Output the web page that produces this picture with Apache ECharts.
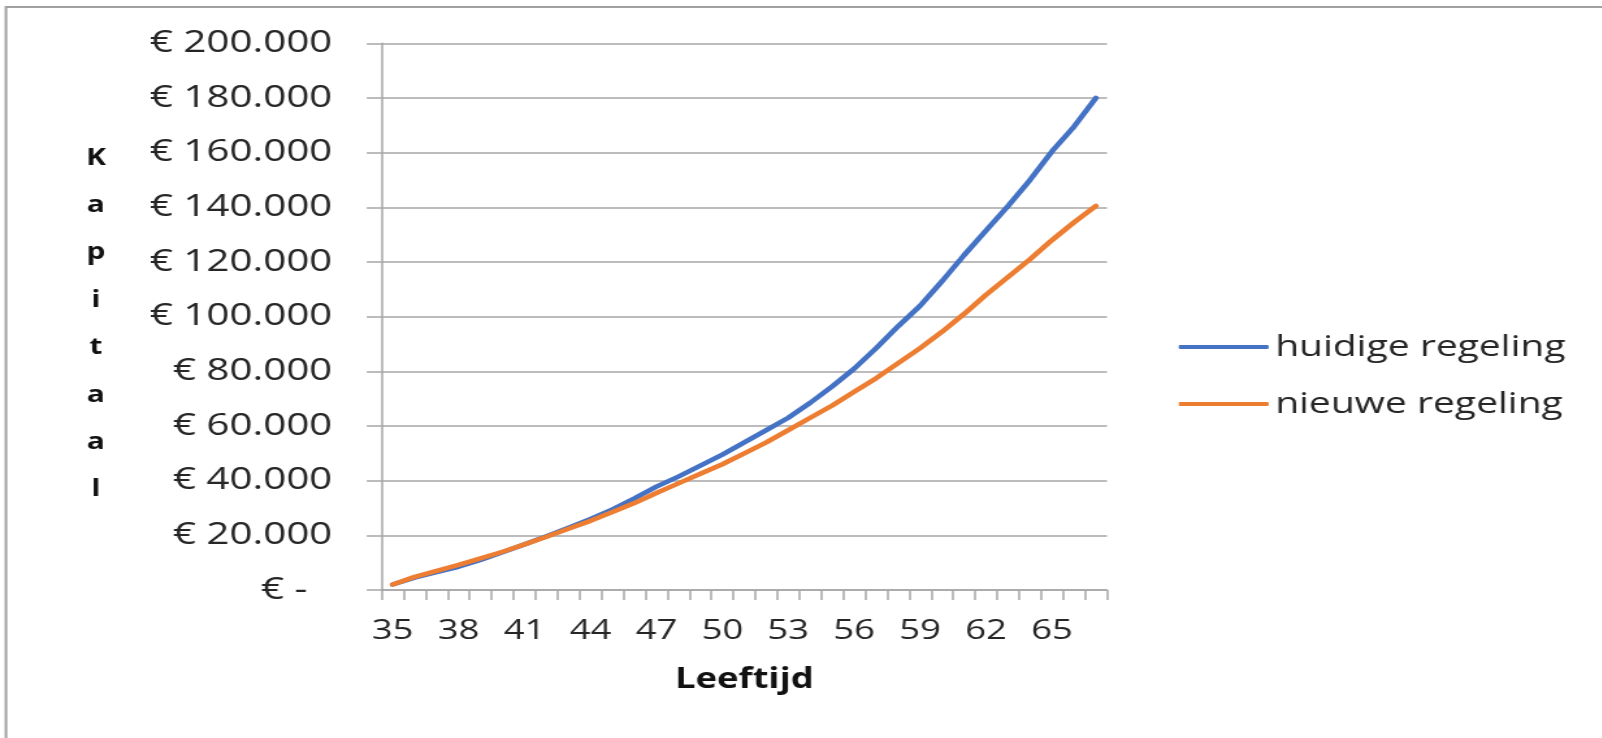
<!DOCTYPE html>
<html>
<head>
<meta charset="utf-8">
<title>Kapitaal per leeftijd</title>
<script src="https://cdn.jsdelivr.net/npm/echarts@6/dist/echarts.min.js"></script>
<style>
  html, body { margin: 0; padding: 0; background: #ffffff; overflow: hidden; }
  /* The chart is laid out on a narrower canvas and widened horizontally */
  #chart { width: 1232px; height: 738px; transform: scaleX(1.3); transform-origin: 0 0; }
</style>
</head>
<body>
<div id="chart"></div>
<script>
// Leeftijd (age) categories
const ages = ['35','36','37','38','39','40','41','42','43','44','45','46','47','48','49','50',
              '51','52','53','54','55','56','57','58','59','60','61','62','63','64','65','66','67'];

// Opgebouwd kapitaal, huidige regeling (EUR)
const huidigeRegeling = [2000, 4500, 6500, 8500, 11000, 13800, 16700, 19700, 22800, 26000,
  29500, 33500, 37800, 41500, 45500, 49500, 54000, 58500, 63000, 68500, 74500, 81000,
  88500, 96500, 104000, 113000, 122500, 131500, 140500, 150000, 160500, 169500, 180000];

// Opgebouwd kapitaal, nieuwe regeling (EUR)
const nieuweRegeling = [2000, 4800, 7000, 9200, 11600, 14000, 16700, 19500, 22400, 25300,
  28500, 31800, 35500, 39000, 42500, 46000, 50000, 54000, 58500, 63000, 67500, 72500,
  77500, 83000, 88500, 94500, 101000, 108000, 114500, 121000, 128000, 134500, 140500];

// Y axis range and step
const yMin = 0;
const yMax = 200000;
const yStep = 20000;

const seriesNames = ['huidige regeling', 'nieuwe regeling'];

const FONT = '"Open Sans", "Noto Sans", sans-serif';
const TEXT = '#262626';
const GRID = '#a6a6a6';

function euro(v) {
  if (v === 0) return '{z|€ -}';
  return '€ ' + String(v).replace(/\B(?=(\d{3})+(?!\d))/g, '.');
}

const chart = echarts.init(document.getElementById('chart'), null, { renderer: 'canvas' });

chart.setOption({
  animation: false,
  backgroundColor: '#ffffff',
  grid: { left: 293.6, top: 43.3, width: 557.9, height: 546.7, containLabel: false },
  graphic: [
    {
      type: 'rect',
      shape: { x: 4.6, y: 7, width: 1300, height: 800 },
      style: { fill: 'none', stroke: '#a0a0a0', lineWidth: 2 },
      silent: true
    },
    {
      type: 'text',
      x: 73.8,
      y: 323.9,
      style: {
        text: 'K\na\np\ni\nt\na\na\nl',
        textAlign: 'center',
        textVerticalAlign: 'middle',
        lineHeight: 47.4,
        font: 'bold 23px ' + FONT,
        fill: '#111111'
      },
      silent: true
    }
  ],
  legend: {
    orient: 'vertical',
    left: 906.7,
    top: 332,
    padding: 0,
    itemWidth: 69.2,
    itemHeight: 4,
    itemGap: 27,
    icon: 'roundRect',
    data: seriesNames,
    textStyle: { fontFamily: FONT, fontSize: 30, color: TEXT }
  },
  xAxis: {
    type: 'category',
    data: ages,
    boundaryGap: true,
    name: 'Leeftijd',
    nameLocation: 'middle',
    nameGap: 76,
    nameTextStyle: { fontFamily: FONT, fontSize: 28, fontWeight: 'bold', color: '#111111' },
    axisLine: { show: true, lineStyle: { color: GRID, width: 1.5 } },
    axisTick: { show: true, interval: 0, alignWithLabel: false, length: 10, lineStyle: { color: GRID, width: 1.5 } },
    axisLabel: { interval: 2, margin: 27, fontFamily: FONT, fontSize: 28, color: TEXT },
    splitLine: { show: false }
  },
  yAxis: {
    type: 'value',
    min: yMin,
    max: yMax,
    interval: yStep,
    axisLine: { show: true, lineStyle: { color: GRID, width: 1.5 } },
    axisTick: { show: true, inside: false, length: 11.5, lineStyle: { color: GRID, width: 1.5 } },
    axisLabel: {
      margin: 38,
      fontFamily: FONT,
      fontSize: 31,
      color: TEXT,
      formatter: euro,
      rich: { z: { fontFamily: FONT, fontSize: 31, color: TEXT, padding: [0, 19, 0, 0] } }
    },
    splitLine: { show: true, lineStyle: { color: GRID, width: 1.5 } }
  },
  series: [
    {
      name: seriesNames[0],
      type: 'line',
      data: huidigeRegeling,
      symbol: 'none',
      itemStyle: { color: '#4472c4' },
      lineStyle: { color: '#4472c4', width: 4.5, cap: 'round', join: 'round' },
      z: 3
    },
    {
      name: seriesNames[1],
      type: 'line',
      data: nieuweRegeling,
      symbol: 'none',
      itemStyle: { color: '#ed7d31' },
      lineStyle: { color: '#ed7d31', width: 4.5, cap: 'round', join: 'round' },
      z: 4
    }
  ]
});
</script>
</body>
</html>
